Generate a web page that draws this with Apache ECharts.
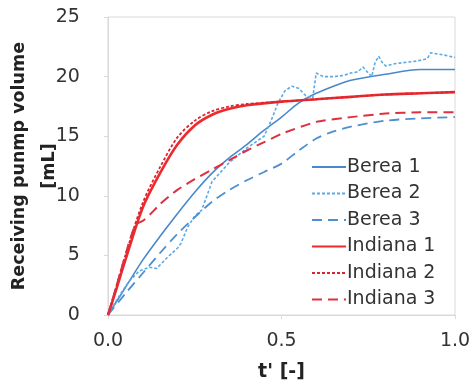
<!DOCTYPE html>
<html><head><meta charset="utf-8">
<script src="https://cdn.jsdelivr.net/npm/echarts@6/dist/echarts.min.js"></script>
<style>html,body{margin:0;padding:0;background:#fff}#c{width:471px;height:388px}</style>
</head><body><div id="c"></div>
<script>
var seriesNames = ['Berea 1','Berea 2','Berea 3','Indiana 1','Indiana 2','Indiana 3'];
var xTicks = [0.0, 0.5, 1.0];
var yTicks = [0, 5, 10, 15, 20, 25];

var berea1X = [0,0.05,0.1,0.15,0.2,0.25,0.3,0.35,0.4,0.45,0.5,0.55,0.6,0.65,0.7,0.8,0.9,1.0];
var berea1Y = [0,2.3,4.6,6.6,8.5,10.3,11.9,13.2,14.3,15.5,16.6,17.8,18.6,19.2,19.7,20.2,20.6,20.6];

var berea2X = [0,0.03,0.06,0.09,0.12,0.14,0.17,0.2,0.21,0.23,0.25,0.27,0.3,0.35,0.4,0.45,0.47,0.49,0.51,0.53,0.55,0.57,0.59,0.6,0.62,0.65,0.68,0.7,0.72,0.735,0.75,0.76,0.77,0.78,0.79,0.8,0.83,0.86,0.89,0.92,0.93,0.95,0.97,1.0];
var berea2Y = [0,1.5,2.8,3.7,4.0,3.9,4.8,5.6,6.0,7.4,8.3,8.8,11.2,12.8,14.0,15.0,16.3,17.8,18.8,19.2,19.0,18.4,18.2,20.3,20.0,20.0,20.1,20.3,20.4,20.8,20.3,20.0,21.2,21.7,21.2,20.9,21.1,21.2,21.3,21.5,22.0,21.9,21.8,21.6];

var berea3X = [0,0.05,0.1,0.15,0.2,0.25,0.3,0.35,0.4,0.45,0.5,0.55,0.6,0.65,0.7,0.8,0.9,1.0];
var berea3Y = [0,1.8,3.5,5.2,6.8,8.2,9.5,10.5,11.3,12.0,12.7,13.8,14.8,15.4,15.8,16.3,16.5,16.6];

var indiana1X = [0,0.02,0.05,0.1,0.15,0.2,0.25,0.3,0.35,0.4,0.5,0.6,0.7,0.8,0.9,1.0];
var indiana1Y = [0,1.8,4.6,9.0,11.9,14.3,15.9,16.8,17.3,17.6,17.9,18.1,18.3,18.5,18.6,18.7];

var indiana2X = [0,0.02,0.05,0.1,0.15,0.2,0.25,0.3,0.35,0.4,0.5,0.6,0.7,0.8,0.9,1.0];
var indiana2Y = [0,2.0,5.0,9.4,12.4,14.9,16.3,17.1,17.5,17.7,17.9,18.1,18.3,18.5,18.6,18.7];

var indiana3X = [0,0.035,0.063,0.08,0.1,0.12,0.15,0.2,0.25,0.3,0.35,0.4,0.45,0.5,0.6,0.7,0.8,0.9,1.0];
var indiana3Y = [0,3.5,6.3,7.6,7.9,8.4,9.3,10.5,11.4,12.2,13.0,13.8,14.5,15.2,16.2,16.6,16.9,17.0,17.0];

function pairs(xs, ys){ return xs.map(function(x,i){ return [x, ys[i]]; }); }

var styles = [
  {color:'#4a88cc', width:1.6, type:'solid', smooth:0.3},
  {color:'#5aaae6', width:1.6, type:[3,2], smooth:false},
  {color:'#4f8fd0', width:1.8, type:[10,6], smooth:0.3},
  {color:'#ee2a2e', width:2.6, type:'solid', smooth:0.3},
  {color:'#d92530', width:1.8, type:[3,2], smooth:0.3},
  {color:'#dd3040', width:2.0, type:[10,6], smooth:0.2}
];
var datas = [pairs(berea1X,berea1Y), pairs(berea2X,berea2Y), pairs(berea3X,berea3Y),
             pairs(indiana1X,indiana1Y), pairs(indiana2X,indiana2Y), pairs(indiana3X,indiana3Y)];

var series = seriesNames.map(function(n,i){
  return {name:n, type:'line', data:datas[i], symbol:'none', smooth:styles[i].smooth,
    lineStyle:{color:styles[i].color, width:styles[i].width, type:styles[i].type},
    itemStyle:{color:styles[i].color}, z: i>=3 ? 3 : 2};
});

var FONT = 'DejaVu Sans, Liberation Sans, sans-serif';
var chart = echarts.init(document.getElementById('c'), null, {renderer:'canvas'});
chart.setOption({
  animation:false,
  backgroundColor:'#fff',
  textStyle:{fontFamily:FONT},
  grid:{left:108, right:16, top:17, bottom:73, show:true, borderColor:'#d9d9d9', borderWidth:1,
        containLabel:false, outerBoundsMode:'none'},
  legend:{
    orient:'vertical', left:306, top:152, itemGap:6.5, itemWidth:34, itemHeight:14,
    itemStyle:{opacity:0},
    textStyle:{fontSize:19, color:'#333', fontFamily:FONT, padding:[0,0,0,-4], lineHeight:20},
    data: seriesNames
  },
  xAxis:{type:'value', min:0, max:1, interval:0.5,
    axisLine:{show:true, lineStyle:{color:'#d9d9d9'}},
    axisTick:{show:true, length:4, lineStyle:{color:'#d9d9d9'}},
    splitLine:{show:false},
    axisLabel:{fontSize:19, color:'#333', margin:17, fontFamily:FONT, formatter:function(v){return v.toFixed(1);}},
    name:"t' [-]", nameLocation:'middle', nameGap:48, nameMoveOverlap:false,
    nameTextStyle:{fontSize:19, fontWeight:'bold', color:'#222', fontFamily:FONT}
  },
  yAxis:{type:'value', min:0, max:25, interval:5,
    axisLine:{show:true, lineStyle:{color:'#d9d9d9'}},
    axisTick:{show:true, length:4, lineStyle:{color:'#d9d9d9'}},
    splitLine:{show:false},
    axisLabel:{fontSize:19, color:'#333', margin:16, fontFamily:FONT, align:'right',
      formatter:function(v){ return String(v) + '  '; }},
    name:'Receiving punmp volume\n[mL]', nameLocation:'middle', nameGap:44, nameMoveOverlap:false,
    nameTextStyle:{fontSize:17.5, fontWeight:'bold', color:'#222', lineHeight:30, fontFamily:FONT}
  },
  series:series
});
</script></body></html>
